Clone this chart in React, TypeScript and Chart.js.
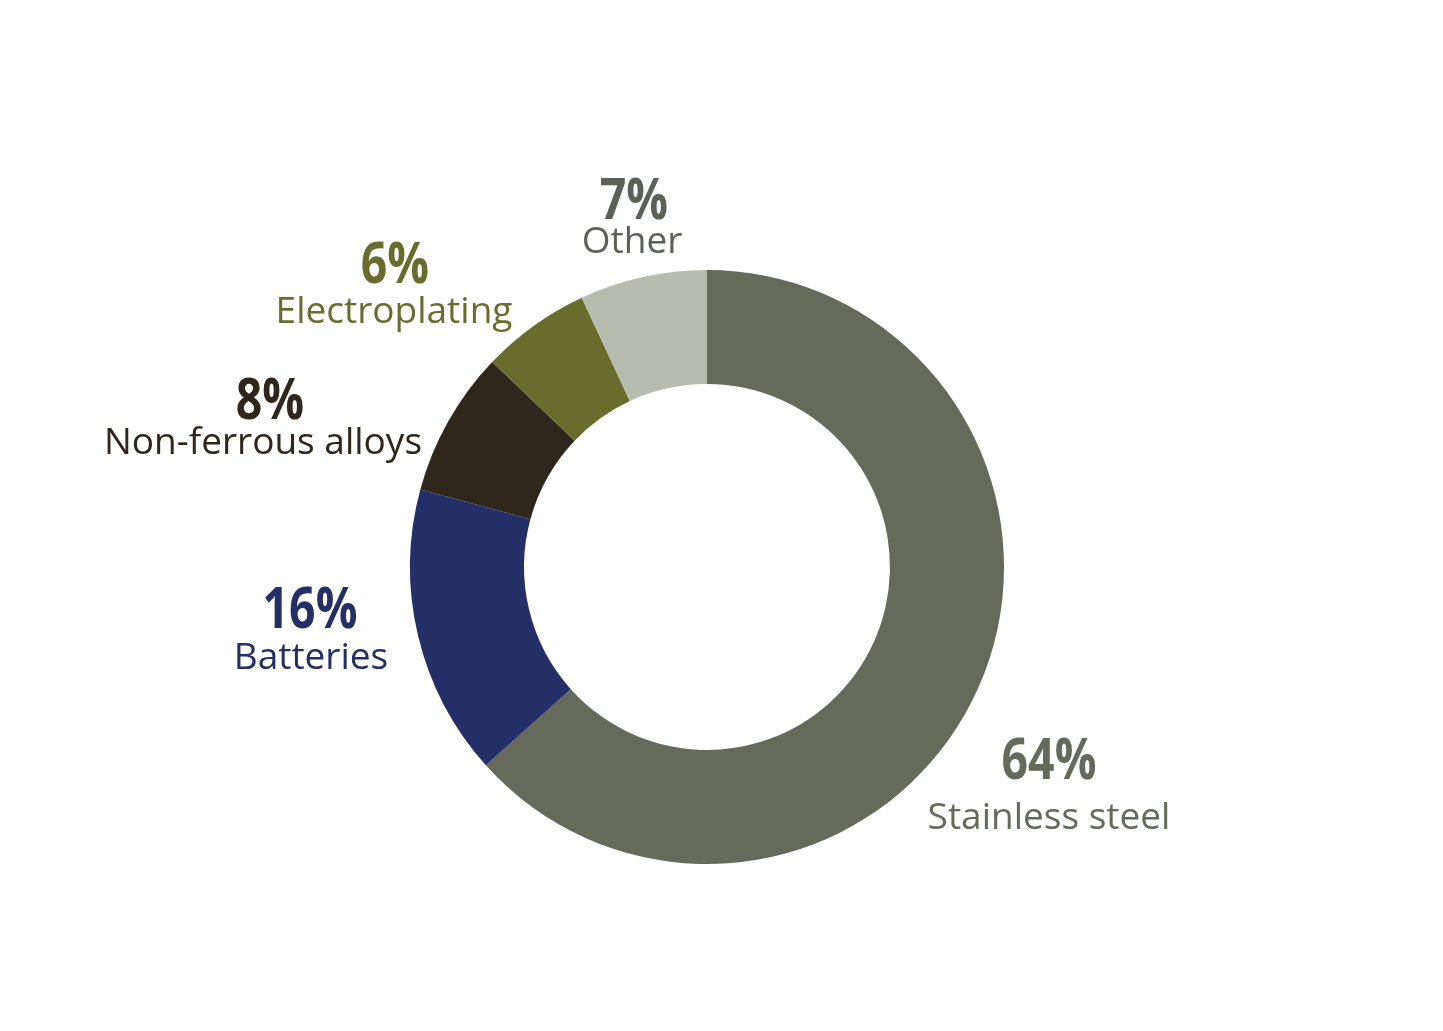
import React, { useEffect, useRef } from "react";
import { Chart, registerables } from "chart.js";

Chart.register(...registerables);

const categories = ["Stainless steel", "Batteries", "Non-ferrous alloys", "Electroplating", "Other"];
const shares = [64, 16, 8, 6, 7];
const sliceColors = ["#656a5a", "#232f66", "#30271c", "#686d2e", "#b8bcae"];
const labelColors = ["#656a5a", "#232f66", "#30271c", "#686d2e", "#5c6057"];

// label anchor offsets relative to chart centre, in px for a 297px radius:
// [pctCenterX, nameCenterX, pctBaseline, nameBaseline]
const labelOffsets: [number, number, number, number][] = [
  [342, 342, 212, 262],
  [-397, -396, 61, 102],
  [-437, -444, -148, -113],
  [-312, -313, -284, -244],
  [-73, -75, -348, -314],
];

const labelPlugin = {
  id: "outerLabels",
  afterDraw(chart: any) {
    const meta = chart.getDatasetMeta(0);
    const arc0 = meta.data[0];
    if (!arc0) return;
    const cx = arc0.x;
    const cy = arc0.y;
    const k = arc0.outerRadius / 297;
    const ctx = chart.ctx;
    ctx.save();
    ctx.textAlign = "center";
    ctx.textBaseline = "alphabetic";
    const squeeze = 0.8;
    categories.forEach((name, i) => {
      const [pdx, ndx, py, ny] = labelOffsets[i];
      ctx.fillStyle = labelColors[i];
      ctx.save();
      ctx.font = `bold ${Math.round(58 * k)}px "Open Sans", "DejaVu Sans Condensed", sans-serif`;
      ctx.translate(cx + pdx * k, cy + py * k);
      ctx.scale(squeeze, 1);
      ctx.fillText(`${shares[i]}%`, 0, 0);
      ctx.restore();
      ctx.font = `${Math.round(37 * k)}px "Open Sans", "Noto Sans", sans-serif`;
      ctx.fillText(name, cx + ndx * k, cy + ny * k);
    });
    ctx.restore();
  },
};

export default function App() {
  const ref = useRef<HTMLCanvasElement>(null);
  useEffect(() => {
    if (!ref.current) return;
    const chart = new Chart(ref.current, {
      type: "doughnut",
      data: {
        labels: categories,
        datasets: [
          {
            data: shares,
            backgroundColor: sliceColors,
            borderWidth: 0,
          },
        ],
      },
      options: {
        animation: false,
        responsive: true,
        maintainAspectRatio: false,
        cutout: "61.6%",
        layout: { padding: { left: 402, right: 431, top: 262, bottom: 159 } },
        plugins: {
          legend: { display: false },
          tooltip: { enabled: false },
        },
      },
      plugins: [labelPlugin],
    });
    return () => chart.destroy();
  }, []);
  return (
    <div style={{ width: 1427, height: 1015, position: "relative", background: "#ffffff" }}>
      <canvas ref={ref} />
    </div>
  );
}
